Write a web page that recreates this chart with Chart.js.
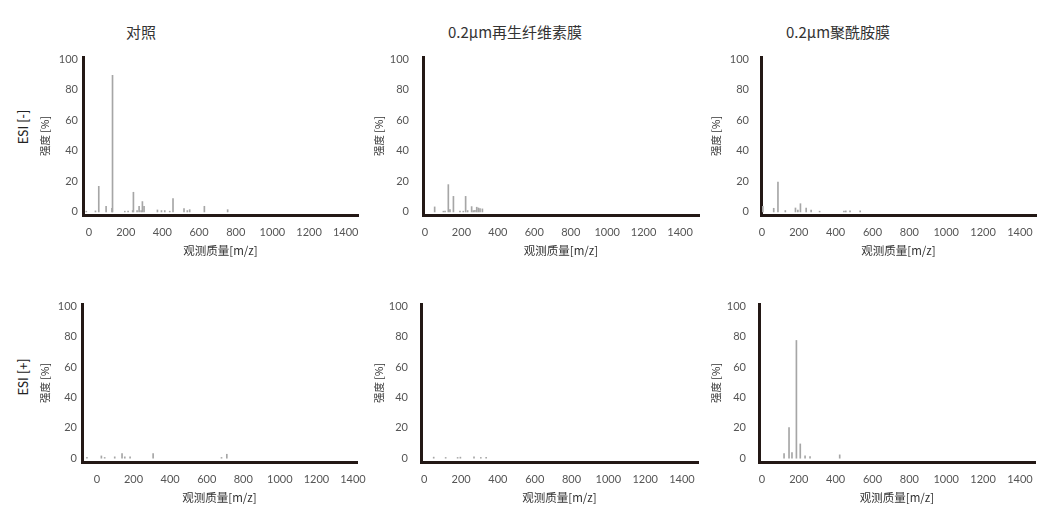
<!DOCTYPE html>
<html><head><meta charset="utf-8">
<script src="https://cdn.jsdelivr.net/npm/chart.js@4"></script>
<style>
body{margin:0;background:#fff;width:1060px;height:521px;overflow:hidden;position:relative;font-family:"Noto Sans CJK SC","Noto Sans",sans-serif;}
canvas{position:absolute;}
.t{position:absolute;transform:translate(-50%,-50%);white-space:nowrap;color:#333;font-size:15px;line-height:1;}
.r{position:absolute;transform:translate(-50%,-50%) rotate(-90deg);white-space:nowrap;color:#222;font-size:13px;line-height:1;font-family:"Lato","Noto Sans",sans-serif;}
</style></head><body>
<div class="t" style="left:141px;top:31px">对照</div>
<div class="t" style="left:515px;top:31px">0.2μm再生纤维素膜</div>
<div class="t" style="left:838px;top:31px">0.2μm聚酰胺膜</div>
<div class="r" style="left:23px;top:127px">ESI [-]</div>
<div class="r" style="left:23px;top:377px">ESI [+]</div>
<script>
// ---- data ----
const xTicks = [0, 200, 400, 600, 800, 1000, 1200, 1400];
const yTicks = [0, 20, 40, 60, 80, 100];
const xTitle = '观测质量[m/z]';
const yTitle = '强度 [%]';

// ESI [-]  对照
const negCtrlMz  = [-15, 35, 53, 93, 125, 128, 195, 213, 238, 242, 262, 273, 284, 291, 300, 373, 395, 413, 440, 458, 518, 536, 549, 629, 756];
const negCtrlInt = [0.5, 0.7, 16.8, 3.7, 2.4, 89.5, 0.5, 0.5, 0.9, 12.9, 0.9, 3.7, 0.9, 6.8, 3.7, 1.3, 0.9, 0.9, 0.5, 8.7, 2.2, 0.9, 1.5, 3.7, 1.5];
// ESI [-]  0.2μm再生纤维素膜
const negRcMz  = [53, 101, 110, 128, 137, 156, 192, 210, 223, 234, 256, 265, 274, 284, 293, 302, 315];
const negRcInt = [3.3, 0.5, 0.5, 17.9, 1.5, 10.2, 0.5, 0.5, 10.2, 0.9, 3.5, 0.9, 1.1, 3.1, 2.6, 2.2, 2.0];
// ESI [-]  0.2μm聚酰胺膜
const negPaMz  = [5, 64, 87, 127, 182, 195, 209, 240, 267, 313, 445, 455, 478, 533];
const negPaInt = [3.7, 2.4, 19.6, 0.9, 2.6, 1.3, 5.4, 2.6, 1.3, 0.5, 0.5, 0.7, 0.7, 0.7];
// ESI [+]  对照
const posCtrlMz  = [-55, 24, 42, 97, 137, 152, 181, 307, 681, 710];
const posCtrlInt = [0.5, 1.5, 0.5, 0.9, 3.1, 0.9, 0.9, 3.1, 0.5, 2.6];
// ESI [+]  0.2μm再生纤维素膜
const posRcMz  = [51, 116, 181, 196, 270, 307, 336];
const posRcInt = [0.7, 0.5, 0.5, 0.7, 0.9, 0.5, 0.5];
// ESI [+]  0.2μm聚酰胺膜
const posPaMz  = [120, 147, 163, 187, 208, 234, 261, 422];
const posPaInt = [3.1, 20.2, 3.7, 77.5, 9.4, 1.5, 1.1, 2.2];

// ---- layout per panel ----
const panels = [
  {mz: negCtrlMz, it: negCtrlInt, a:{l:83, r:358, t:57, b:215}, xmin:-33, xmax:1467, ymin:-2, ymax:101.5, tx:46, pad:5},
  {mz: negRcMz,   it: negRcInt,   a:{l:423, r:699, t:57, b:215}, xmin:-11, xmax:1504, ymin:-2, ymax:101.5, tx:380, pad:14},
  {mz: negPaMz,   it: negPaInt,   a:{l:761, r:1036, t:57, b:215}, xmin:-5, xmax:1487, ymin:-2, ymax:101.5, tx:717, pad:12},
  {mz: posCtrlMz, it: posCtrlInt, a:{l:82, r:357, t:304, b:462}, xmin:-82, xmax:1422, ymin:-2.5, ymax:101.5, tx:46, pad:5},
  {mz: posRcMz,   it: posRcInt,   a:{l:421, r:698, t:304, b:462}, xmin:-18, xmax:1487, ymin:-2.5, ymax:101.5, tx:380, pad:13},
  {mz: posPaMz,   it: posPaInt,   a:{l:759, r:1035, t:304, b:462}, xmin:-16, xmax:1482, ymin:-2.5, ymax:101.5, tx:717, pad:13},
];

const axisColor = '#231815';
const barColor = '#a6a6a6';
const tickFont = {family: 'Lato', size: 11};

panels.forEach(p => {
  const L = Math.round(p.tx - 10);
  const T = p.a.t - 17;
  const R = p.a.r + 10;
  const B = p.a.b + 50;
  const cv = document.createElement('canvas');
  cv.width = R - L; cv.height = B - T;
  cv.style.left = L + 'px'; cv.style.top = T + 'px';
  cv.style.width = (R - L) + 'px'; cv.style.height = (B - T) + 'px';
  document.body.appendChild(cv);
  const yw = p.a.l - L;
  new Chart(cv.getContext('2d'), {
    type: 'bar',
    data: {datasets: [{
      data: p.mz.map((x, i) => ({x: x, y: p.it[i]})),
      backgroundColor: barColor, borderWidth: 0, barThickness: 1
    }]},
    options: {
      responsive: false, animation: false, devicePixelRatio: 1,
      layout: {padding: {left: 0, top: 17, right: 10, bottom: 0}},
      plugins: {legend: {display: false}, tooltip: {enabled: false}},
      scales: {
        x: {
          type: 'linear', min: p.xmin, max: p.xmax, offset: false,
          grid: {display: false, drawTicks: false},
          border: {display: true, color: axisColor, width: 3},
          afterBuildTicks: s => { s.ticks = xTicks.map(v => ({value: v})); },
          ticks: {padding: 11, color: '#555', font: tickFont, autoSkip: false, maxRotation: 0, minRotation: 0, callback: v => String(v)},
          title: {display: true, text: xTitle, color: '#333', font: {family: 'Noto Sans CJK SC', size: 11.5}, padding: {top: 0, bottom: 7}},
          afterFit: s => { s.height = 50; s.paddingLeft = 0; s.paddingRight = 0; }
        },
        y: {
          min: p.ymin, max: p.ymax,
          grid: {display: false, drawTicks: false},
          border: {display: true, color: axisColor, width: 3},
          afterBuildTicks: s => { s.ticks = yTicks.map(v => ({value: v})); },
          ticks: {padding: p.pad, color: '#555', font: tickFont, callback: v => String(v)},
          title: {display: true, text: yTitle, color: '#333', font: {family: 'Noto Sans CJK SC', size: 10.5}, padding: {top: 3, bottom: 0}},
          afterFit: s => { s.width = yw; s.paddingTop = 0; s.paddingBottom = 0; }
        }
      }
    }
  });
});
</script>
</body></html>
